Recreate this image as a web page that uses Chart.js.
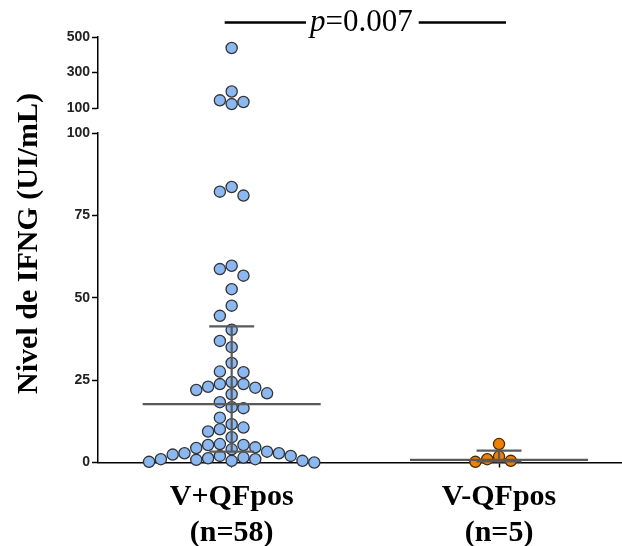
<!DOCTYPE html>
<html><head><meta charset="utf-8">
<script src="https://cdn.jsdelivr.net/npm/chart.js@4/dist/chart.umd.min.js"></script>
<style>html,body{margin:0;padding:0;background:#fff;}canvas{display:block;}</style>
</head><body>
<canvas id="c" width="622" height="546"></canvas>
<script>
// ---- data ----
const categories = ['V+QFpos', 'V-QFpos'];
const categoryN = ['(n=58)', '(n=5)'];
const valuesVpos = [438, 193, 143, 134, 122, 83.6, 82.2, 81.0, 59.7, 58.7, 56.7, 52.6, 47.6, 44.5, 40.3,
  36.9, 35.0, 30.2, 27.6, 27.4, 24.4, 23.8, 23.8, 23.0, 22.7, 22.0, 21.0, 20.7, 18.3, 16.8, 16.5,
  13.6, 11.6, 10.6, 10.1, 9.4, 7.7, 5.6, 5.3, 5.3, 4.6, 4.4, 4.0, 3.3, 2.8, 2.8, 2.4, 2.0, 2.0,
  1.5, 1.3, 1.0, 1.0, 0.8, 0.5, 0.5, 0.2, 0];
const valuesVneg = [5.6, 1.8, 1.0, 0.5, 0.2];
const medians = [17.7, 0.8];
const q1 = [3.3, 0.35];
const q3 = [41.3, 3.6];
const lowerTicks = [0, 25, 50, 75, 100];
const upperTicks = [100, 300, 500];
const pText = '=0.007';

// ---- layout constants ----
const BREAK = 100;
const COL_PX = 11.8, MIN_DIST = 11.4;
const SERIF = "'Liberation Serif','Times New Roman',serif";
const SANS = "'Liberation Sans',Arial,sans-serif";

function barsData() {
  const d = [];
  [0, 1].forEach(i => {
    const c = i + 1;
    d.push({x: c - 0.333, y: medians[i]}, {x: c + 0.333, y: medians[i]}, {x: c, y: null});
    d.push({x: c, y: q1[i]}, {x: c, y: q3[i]}, {x: c, y: null});
    d.push({x: c - 0.084, y: q3[i]}, {x: c + 0.084, y: q3[i]}, {x: c, y: null});
    d.push({x: c - 0.084, y: q1[i]}, {x: c + 0.084, y: q1[i]}, {x: c, y: null});
  });
  return d;
}

const yCommon = {
  type: 'linear', position: 'left', stack: 'ys',
  grid: {display: true, drawOnChartArea: false, drawTicks: true, tickLength: 6, tickColor: '#000', tickWidth: 1.5},
  border: {display: true, color: '#000', width: 1.5},
  ticks: {font: {family: SANS, size: 14, weight: 'bold'}, color: '#222', padding: 2},
  afterFit: s => { s.width = 98; }
};

const pPlugin = {
  id: 'annot',
  afterDraw(chart) {
    const c = chart.ctx, xs = chart.scales.x;
    const x1 = xs.getPixelForValue(1), x2 = xs.getPixelForValue(2);
    const cx = (x1 + x2) / 2;
    c.save();
    c.fillStyle = '#000';
    c.font = 'italic 31px ' + SERIF;
    const wp = c.measureText('p').width;
    c.font = '31px ' + SERIF;
    const wr = c.measureText(pText).width;
    const tw = wp + wr;
    const tx = cx - tw / 2 - 4, ty = 31;
    c.font = 'italic 31px ' + SERIF;
    c.textBaseline = 'alphabetic';
    c.fillText('p', tx, ty);
    c.font = '31px ' + SERIF;
    c.fillText(pText, tx + wp, ty);
    c.strokeStyle = '#000';
    c.lineWidth = 2.5;
    c.beginPath();
    c.moveTo(x1 - 7, 22.5); c.lineTo(tx - 4, 22.5);
    c.moveTo(tx + tw + 6, 22.5); c.lineTo(x2 + 7, 22.5);
    c.stroke();
    // y title
    c.translate(37, 243.5);
    c.rotate(-Math.PI / 2);
    c.font = 'bold 30px ' + SERIF;
    c.textAlign = 'center';
    c.fillText('Nivel de IFNG (UI/mL)', 0, 0);
    c.restore();
  }
};

const ptBlue = {backgroundColor: '#8cb8f2', borderColor: '#333', borderWidth: 1.3, pointRadius: 5.6, pointHoverRadius: 5.6, clip: false, order: 2};
const ptOrange = {backgroundColor: '#f08000', borderColor: '#4a2a00', borderWidth: 1.3, pointRadius: 5.6, pointHoverRadius: 5.6, clip: false, order: 2};

const chart = new Chart(document.getElementById('c'), {
  type: 'scatter',
  data: {
    datasets: [
      Object.assign({label: categories[0], yAxisID: 'y', data: []}, ptBlue),
      Object.assign({label: categories[0] + ' >100', yAxisID: 'yTop', data: []}, ptBlue),
      Object.assign({label: categories[1], yAxisID: 'y', data: []}, ptOrange),
      {type: 'line', label: 'mediana / IQR', yAxisID: 'y', data: barsData(), showLine: true, spanGaps: false,
       borderColor: '#5a5a5a', borderWidth: 2.2, pointRadius: 0, fill: false, order: 0, clip: false}
    ]
  },
  options: {
    responsive: false, animation: false, devicePixelRatio: 1,
    layout: {autoPadding: false, padding: {left: 0, right: 0, top: 37, bottom: 0}},
    plugins: {legend: {display: false}, tooltip: {enabled: false}},
    scales: {
      x: {
        type: 'linear', position: 'bottom', min: 0.5, max: 2.46,
        grid: {display: true, drawOnChartArea: false, drawTicks: true, tickLength: 5, tickColor: '#000', tickWidth: 1.5},
        border: {display: true, color: '#000', width: 1.5},
        afterBuildTicks: s => { s.ticks = [{value: 1}, {value: 2}]; },
        ticks: {
          callback: v => [categories[v - 1], categoryN[v - 1]],
          font: {family: SERIF, size: 30, weight: 'bold', lineHeight: 1.2},
          color: '#000', padding: 12, maxRotation: 0, autoSkip: false
        },
        afterFit: s => { s.height = 83.5; s.paddingLeft = 0; s.paddingRight = 0; }
      },
      y: Object.assign({}, yCommon, {
        min: 0, max: 100, weight: 1, stackWeight: 329.5,
        afterBuildTicks: s => { s.ticks = lowerTicks.map(v => ({value: v})); }
      }),
      ygap: {
        type: 'linear', position: 'left', stack: 'ys', weight: 2, stackWeight: 25, min: 0, max: 1,
        grid: {display: false}, border: {display: false}, ticks: {display: false},
        afterFit: s => { s.width = 98; }
      },
      yTop: Object.assign({}, yCommon, {
        min: 100, max: 500, weight: 3, stackWeight: 71,
        afterBuildTicks: s => { s.ticks = upperTicks.map(v => ({value: v})); }
      })
    }
  },
  plugins: [pPlugin]
});

// beeswarm placement computed through the chart's scales
function swarm(values, center) {
  const xs = chart.scales.x;
  const unit = xs.getPixelForValue(center + 1) - xs.getPixelForValue(center);
  const order = values.map((v, i) => i).sort((a, b) => values[b] - values[a]);
  const placed = [], xsOut = new Array(values.length);
  for (const i of order) {
    const v = values[i];
    const py = (v > BREAK ? chart.scales.yTop : chart.scales.y).getPixelForValue(v);
    for (let j = 0; j < 60; j++) {
      const k = j === 0 ? 0 : (j % 2 ? -Math.ceil(j / 2) : Math.ceil(j / 2));
      const px = k * COL_PX;
      if (placed.every(p => Math.hypot(p.px - px, p.py - py) >= MIN_DIST)) {
        placed.push({px, py});
        xsOut[i] = center + px / unit;
        break;
      }
    }
  }
  return xsOut;
}
const x1 = swarm(valuesVpos, 1);
const x2 = swarm(valuesVneg, 2);
chart.data.datasets[0].data = valuesVpos.map((v, i) => ({x: x1[i], y: v})).filter(p => p.y <= BREAK);
chart.data.datasets[1].data = valuesVpos.map((v, i) => ({x: x1[i], y: v})).filter(p => p.y > BREAK);
chart.data.datasets[2].data = valuesVneg.map((v, i) => ({x: x2[i], y: v}));
chart.update('none');
</script>
</body></html>
